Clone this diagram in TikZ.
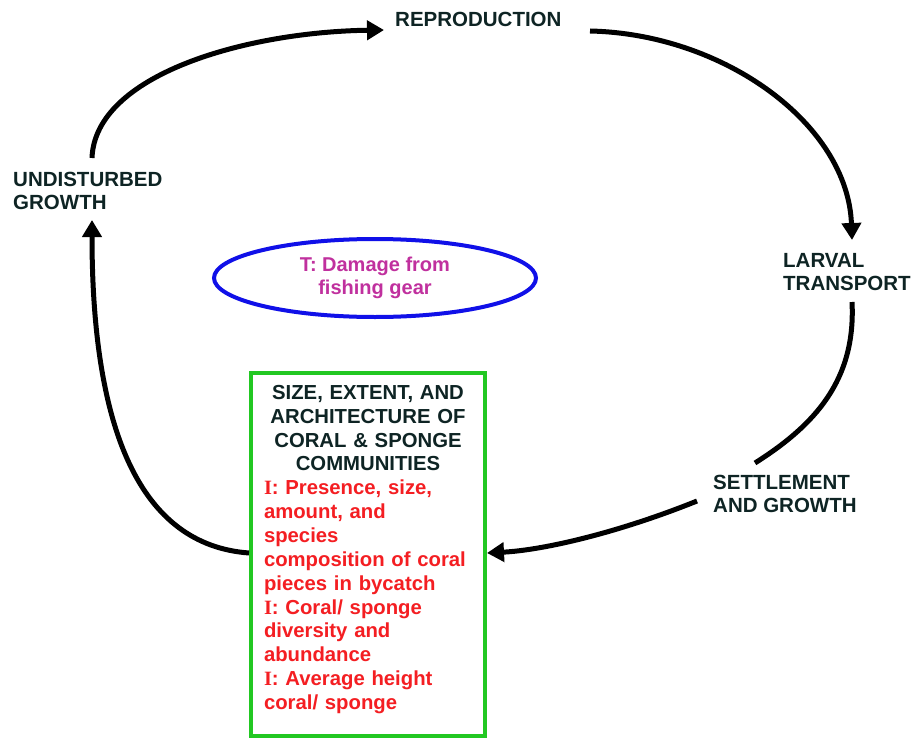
\documentclass[tikz,border=0pt]{standalone}
\usepackage{fontspec}
\setmainfont{Liberation Sans}
\newfontfamily\serifI{Liberation Serif}
\usetikzlibrary{shapes.geometric,arrows.meta}
\definecolor{txt}{HTML}{0E2424}
\definecolor{redt}{HTML}{F41E22}
\definecolor{mag}{HTML}{C0309E}
\definecolor{ellblue}{HTML}{1010E8}
\definecolor{boxgreen}{HTML}{22C822}
\tikzset{
  lbl/.style={inner sep=0pt, font=\fontsize{20.5}{23.4}\selectfont\bfseries, text=txt, align=left, anchor=north west},
  flow/.style={line width=5pt, draw=black, -{Triangle[length=17pt,width=19pt]}},
  plain/.style={line width=5pt, draw=black}
}
\begin{document}
\begin{tikzpicture}[x=1pt,y=-1pt]
\useasboundingbox (0,0) rectangle (915,741);
\fill[white] (0,0) rectangle (915,741);
% labels
\node[lbl] (repro) at (395,12) {REPRODUCTION};
\node[lbl] (ug) at (13,172) {UNDISTURBED\\GROWTH};
\node[lbl] (larval) at (783,253) {LARVAL\\TRANSPORT};
\node[lbl] (settle) at (713,475) {SETTLEMENT\\AND GROWTH};
% ellipse
\node[ellipse, draw=ellblue, line width=4pt, minimum width=322pt, minimum height=78pt,
      text=mag, font=\fontsize{20}{23.5}\selectfont\bfseries, align=center, inner sep=0pt]
      (threat) at (375,278) {T: Damage from\\fishing gear};
% box
\node[draw=boxgreen, line width=4pt, minimum width=234pt, minimum height=363pt, inner sep=0pt]
      (box) at (368,554) {};
\node[inner sep=0pt, anchor=north, text width=208pt, font=\fontsize{20.3}{23.85}\selectfont\bfseries]
      (boxtext) at (368,385) {%
  {\centering\color{txt}SIZE, EXTENT, AND\\ARCHITECTURE OF\\CORAL \& SPONGE\\COMMUNITIES\par}%
  \raggedright\color{redt}%
  {\serifI I}: Presence, size,\\amount, and\\species\\composition of coral\\pieces in bycatch\\
  {\serifI I}: Coral/ sponge\\diversity and\\abundance\\
  {\serifI I}: Average height\\coral/ sponge\par};
% connector end points
\coordinate (s1) at (92,158);
\coordinate (e1) at (384,30);
\coordinate (s2) at (590,31);
\coordinate (e2) at (852,240);
\coordinate (s3) at (852,302);
\coordinate (e3) at (755,463);
\coordinate (s4) at (697,501);
\coordinate (e4) at (487,553);
\coordinate (s5) at (249,553);
\coordinate (e5) at (92,220);
\draw[flow] (s1) .. controls (95,75) and (245,32) .. (e1);
\draw[flow] (s2) .. controls (725,34) and (848,125) .. (e2);
\draw[plain] (s3) .. controls (856,380) and (815,425) .. (e3);
\draw[flow] (s4) .. controls (620,532) and (545,550) .. (e4);
\draw[flow] (s5) .. controls (140,545) and (92,430) .. (e5);
\end{tikzpicture}
\end{document}
